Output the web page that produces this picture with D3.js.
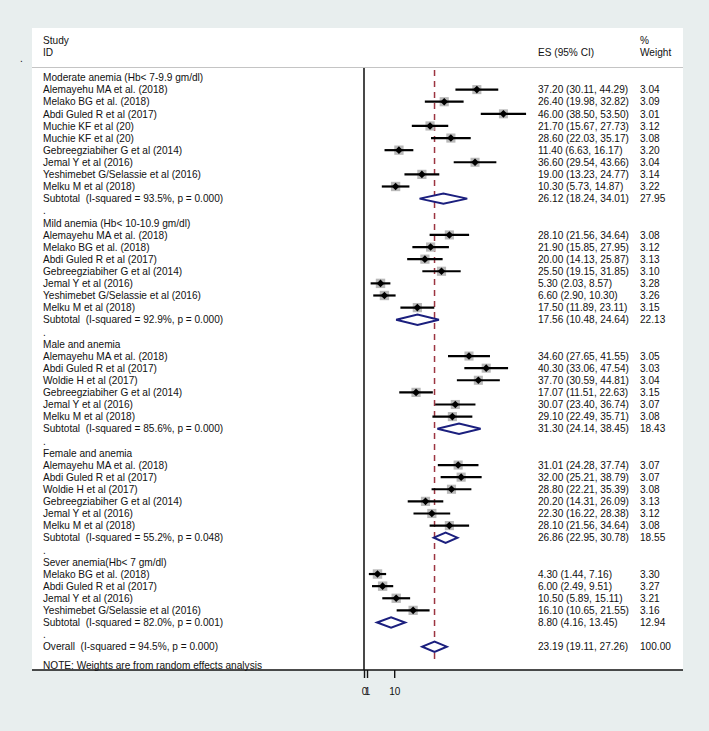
<!DOCTYPE html>
<html><head><meta charset="utf-8">
<script src="https://cdn.jsdelivr.net/npm/d3@7"></script>
<style>
html,body{margin:0;padding:0;background:#e8eeee;}
svg{display:block;}
text{font-family:"Liberation Sans",Arial,Helvetica,sans-serif;fill:#111;white-space:pre;}
</style></head>
<body>
<svg id="chart" width="709" height="731"></svg>
<script>
// Row labels (top to bottom)
const labels = [
 "Moderate anemia (Hb< 7-9.9 gm/dl)",
 "Alemayehu MA et al. (2018)","Melako BG et al. (2018)","Abdi Guled R et al (2017)",
 "Muchie KF et al (20)","Muchie KF et al (20)","Gebreegziabiher G et al (2014)",
 "Jemal Y et al (2016)","Yeshimebet G/Selassie et al (2016)","Melku M et al (2018)",
 "Subtotal  (I-squared = 93.5%, p = 0.000)",".",
 "Mild anemia (Hb< 10-10.9 gm/dl)",
 "Alemayehu MA et al. (2018)","Melako BG et al. (2018)","Abdi Guled R et al (2017)",
 "Gebreegziabiher G et al (2014)","Jemal Y et al (2016)","Yeshimebet G/Selassie et al (2016)",
 "Melku M et al (2018)",
 "Subtotal  (I-squared = 92.9%, p = 0.000)",".",
 "Male and anemia",
 "Alemayehu MA et al. (2018)","Abdi Guled R et al (2017)","Woldie H et al (2017)",
 "Gebreegziabiher G et al (2014)","Jemal Y et al (2016)","Melku M et al (2018)",
 "Subtotal  (I-squared = 85.6%, p = 0.000)",".",
 "Female and anemia",
 "Alemayehu MA et al. (2018)","Abdi Guled R et al (2017)","Woldie H et al (2017)",
 "Gebreegziabiher G et al (2014)","Jemal Y et al (2016)","Melku M et al (2018)",
 "Subtotal  (I-squared = 55.2%, p = 0.048)",".",
 "Sever anemia(Hb< 7 gm/dl)",
 "Melako BG et al. (2018)","Abdi Guled R et al (2017)","Jemal Y et al (2016)",
 "Yeshimebet G/Selassie et al (2016)",
 "Subtotal  (I-squared = 82.0%, p = 0.001)",".",
 "Overall  (I-squared = 94.5%, p = 0.000)"
];
// Row kind: h = heading, s = study, p = pooled (subtotal/overall), b = blank "."
const kinds = ["h","s","s","s","s","s","s","s","s","s","p","b",
 "h","s","s","s","s","s","s","s","p","b",
 "h","s","s","s","s","s","s","p","b",
 "h","s","s","s","s","s","s","p","b",
 "h","s","s","s","s","p","b","p"];
const es = [null,37.20,26.40,46.00,21.70,28.60,11.40,36.60,19.00,10.30,26.12,null,
 null,28.10,21.90,20.00,25.50,5.30,6.60,17.50,17.56,null,
 null,34.60,40.30,37.70,17.07,30.07,29.10,31.30,null,
 null,31.01,32.00,28.80,20.20,22.30,28.10,26.86,null,
 null,4.30,6.00,10.50,16.10,8.80,null,23.19];
const lci = [null,30.11,19.98,38.50,15.67,22.03,6.63,29.54,13.23,5.73,18.24,null,
 null,21.56,15.85,14.13,19.15,2.03,2.90,11.89,10.48,null,
 null,27.65,33.06,30.59,11.51,23.40,22.49,24.14,null,
 null,24.28,25.21,22.21,14.31,16.22,21.56,22.95,null,
 null,1.44,2.49,5.89,10.65,4.16,null,19.11];
const uci = [null,44.29,32.82,53.50,27.73,35.17,16.17,43.66,24.77,14.87,34.01,null,
 null,34.64,27.95,25.87,31.85,8.57,10.30,23.11,24.64,null,
 null,41.55,47.54,44.81,22.63,36.74,35.71,38.45,null,
 null,37.74,38.79,35.39,26.09,28.38,34.64,30.78,null,
 null,7.16,9.51,15.11,21.55,13.45,null,27.26];
const weight = [null,3.04,3.09,3.01,3.12,3.08,3.20,3.04,3.14,3.22,27.95,null,
 null,3.08,3.12,3.13,3.10,3.28,3.26,3.15,22.13,null,
 null,3.05,3.03,3.04,3.15,3.07,3.08,18.43,null,
 null,3.07,3.07,3.08,3.13,3.12,3.08,18.55,null,
 null,3.30,3.27,3.21,3.16,12.94,null,100.00];
const overallES = 23.19;
const tickValues = [0, 1, 10];
const tickLabels = ["0", "1", "10"];
const note = "NOTE: Weights are from random effects analysis";

const svg = d3.select("#chart");
const panel = {x0: 32, x1: 683, y0: 28, y1: 670};
svg.append("rect").attr("x", panel.x0).attr("y", panel.y0)
  .attr("width", panel.x1 - panel.x0).attr("height", panel.y1 - panel.y0).attr("fill", "#fff");

const x = d3.scaleLinear().domain([0, 50]).range([364.5, 364.5 + 151]);
const y = d3.scaleLinear().domain([0, 47]).range([77.5, 646.7]);

const textX = 43, esX = 538, wX = 640, fs = 10.1;
const fmt = d3.format(".2f");

// stray dot left of panel
svg.append("text").attr("x", 20).attr("y", 62).attr("font-size", fs).text(".");

// header
const hdr = svg.append("g").attr("font-size", fs);
hdr.append("text").attr("x", textX).attr("y", 44).text("Study");
hdr.append("text").attr("x", textX).attr("y", 56).text("ID");
hdr.append("text").attr("x", esX).attr("y", 56).text("ES (95% CI)");
hdr.append("text").attr("x", wX).attr("y", 44).text("%");
hdr.append("text").attr("x", wX).attr("y", 56).text("Weight");

// header separator
svg.append("line").attr("x1", panel.x0).attr("x2", panel.x1).attr("y1", 67.5).attr("y2", 67.5)
  .attr("stroke", "#c4c4c4").attr("stroke-width", 1.2);

// null line
svg.append("line").attr("x1", x(0) - 0.5).attr("x2", x(0) - 0.5).attr("y1", 68).attr("y2", panel.y1)
  .attr("stroke", "#1a1a1a").attr("stroke-width", 1.6);

// overall dashed line
svg.append("line").attr("x1", x(overallES)).attr("x2", x(overallES)).attr("y1", 70).attr("y2", 662)
  .attr("stroke", "#9c3440").attr("stroke-width", 1.5).attr("stroke-dasharray", "6,5");

const rows = labels.map((l, i) => ({i, label: l, kind: kinds[i], es: es[i], lci: lci[i], uci: uci[i], w: weight[i]}));

// labels
svg.append("g").attr("font-size", fs).selectAll("text").data(rows).join("text")
  .attr("x", textX).attr("y", d => y(d.i) + 3.7).text(d => d.label);

// ES and weight text
const dataRows = rows.filter(d => d.es != null);
svg.append("g").attr("font-size", fs).selectAll("text").data(dataRows).join("text")
  .attr("x", esX).attr("y", d => y(d.i) + 3.7)
  .text(d => `${fmt(d.es)} (${fmt(d.lci)}, ${fmt(d.uci)})`);
svg.append("g").attr("font-size", fs).selectAll("text").data(dataRows).join("text")
  .attr("x", wX).attr("y", d => y(d.i) + 3.7).text(d => fmt(d.w));

// study markers
const studies = rows.filter(d => d.kind === "s");
const g = svg.append("g");
g.selectAll("rect.box").data(studies).join("rect").attr("class", "box")
  .attr("x", d => x(d.es) - Math.sqrt(d.w) * 2.6)
  .attr("y", d => y(d.i) - Math.sqrt(d.w) * 2.6)
  .attr("width", d => Math.sqrt(d.w) * 5.2).attr("height", d => Math.sqrt(d.w) * 5.2)
  .attr("fill", "#b9b9b9");
g.selectAll("line.ci").data(studies).join("line").attr("class", "ci")
  .attr("x1", d => x(d.lci)).attr("x2", d => x(d.uci))
  .attr("y1", d => y(d.i)).attr("y2", d => y(d.i))
  .attr("stroke", "#000").attr("stroke-width", 2.2);
g.selectAll("path.pt").data(studies).join("path").attr("class", "pt")
  .attr("d", d => { const cx = x(d.es), cy = y(d.i), r = 3.8;
    return `M${cx - r},${cy}L${cx},${cy - r}L${cx + r},${cy}L${cx},${cy + r}Z`; })
  .attr("fill", "#000");

// pooled diamonds
const pooled = rows.filter(d => d.kind === "p");
g.selectAll("path.dia").data(pooled).join("path").attr("class", "dia")
  .attr("d", d => { const cy = y(d.i), h = 5.2;
    return `M${x(d.lci)},${cy}L${x(d.es)},${cy - h}L${x(d.uci)},${cy}L${x(d.es)},${cy + h}Z`; })
  .attr("fill", "#fff").attr("stroke", "#1b1f7e").attr("stroke-width", 2);

// note
svg.append("text").attr("x", textX).attr("y", 668.5).attr("font-size", fs).text(note);

// x axis
svg.append("line").attr("x1", panel.x0).attr("x2", panel.x1).attr("y1", panel.y1).attr("y2", panel.y1)
  .attr("stroke", "#111").attr("stroke-width", 1.5);
const ax = svg.append("g");
ax.selectAll("line").data(tickValues).join("line")
  .attr("x1", d => x(d)).attr("x2", d => x(d)).attr("y1", panel.y1).attr("y2", panel.y1 + 8)
  .attr("stroke", "#111").attr("stroke-width", 1.4);
ax.selectAll("text").data(tickValues).join("text")
  .attr("x", d => x(d)).attr("y", panel.y1 + 25).attr("text-anchor", "middle")
  .attr("font-size", 10).text((d, i) => tickLabels[i]);
</script>
</body></html>
